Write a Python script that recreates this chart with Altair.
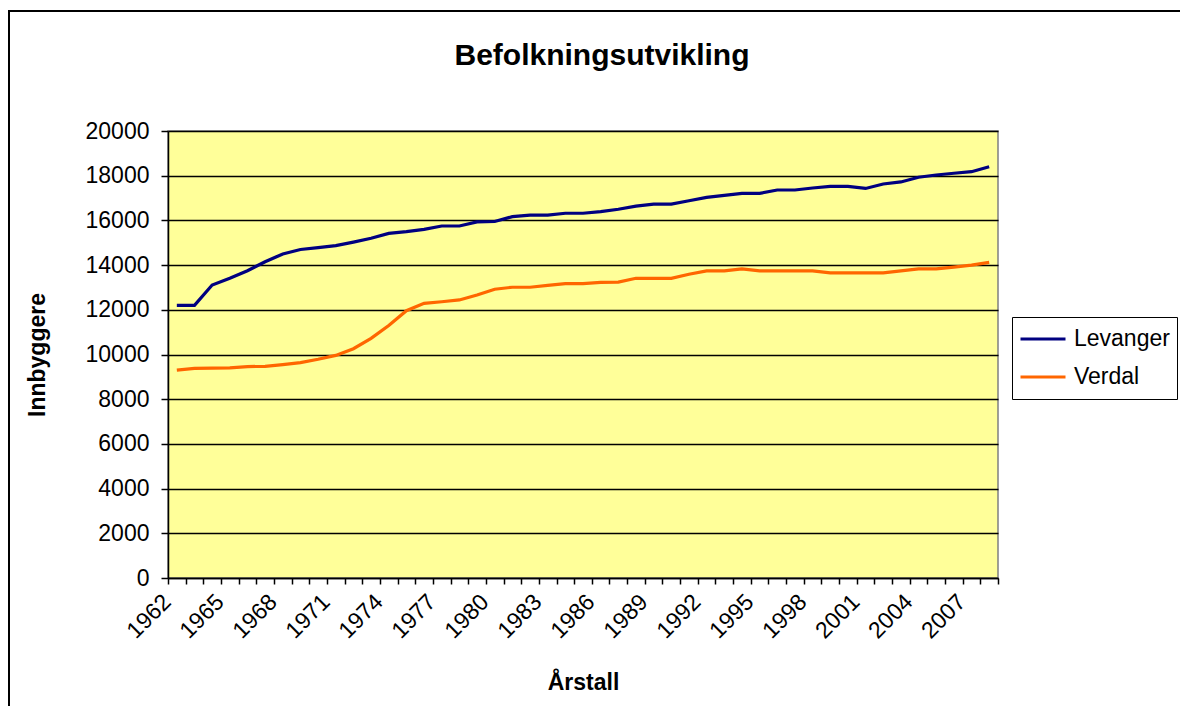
import altair as alt
import pandas as pd

years = [1962, 1963, 1964, 1965, 1966, 1967, 1968, 1969, 1970, 1971,
         1972, 1973, 1974, 1975, 1976, 1977, 1978, 1979, 1980, 1981,
         1982, 1983, 1984, 1985, 1986, 1987, 1988, 1989, 1990, 1991,
         1992, 1993, 1994, 1995, 1996, 1997, 1998, 1999, 2000, 2001,
         2002, 2003, 2004, 2005, 2006, 2007, 2008]

levanger = [12200, 12200, 13110, 13410, 13750, 14150, 14500, 14700, 14780, 14870,
            15030, 15200, 15420, 15500, 15600, 15750, 15750, 15930, 15950, 16170,
            16240, 16240, 16320, 16320, 16390, 16500, 16640, 16730, 16730, 16880,
            17030, 17120, 17210, 17210, 17360, 17360, 17450, 17520, 17520, 17430,
            17630, 17720, 17930, 18030, 18110, 18180, 18400]

verdal = [9300, 9380, 9390, 9400, 9460, 9470, 9545, 9635, 9785, 9960,
          10260, 10720, 11300, 11960, 12290, 12360, 12440, 12660, 12920, 13010,
          13010, 13090, 13170, 13170, 13230, 13240, 13410, 13410, 13410, 13590,
          13740, 13740, 13830, 13740, 13740, 13740, 13740, 13650, 13650, 13650,
          13650, 13740, 13830, 13830, 13910, 14000, 14120]

series_names = ["Levanger", "Verdal"]
series_colors = ["#000080", "#FF6600"]
y_ticks = [0, 2000, 4000, 6000, 8000, 10000, 12000, 14000, 16000, 18000, 20000]

rows = []
for name, vals in zip(series_names, [levanger, verdal]):
    for yr, v in zip(years, vals):
        rows.append({"year": yr, "series": name, "value": v})
df = pd.DataFrame(rows)

FONT = "Liberation Sans"

frame = alt.Chart(alt.Data(values=[{}])).mark_rect(
    fillOpacity=0, stroke="black", strokeWidth=2
).encode(
    x=alt.value(-159), x2=alt.value(1019), y=alt.value(-120), y2=alt.value(640)
)

lines = alt.Chart(df).mark_line(strokeWidth=3.2).encode(
    x=alt.X(
        "year:O",
        scale=alt.Scale(type="band", paddingInner=0, paddingOuter=0),
        bandPosition=0.5,
        axis=alt.Axis(
            title="Årstall",
            titleFont=FONT, titleFontSize=23, titleFontWeight="bold", titleColor="black",
            titlePadding=29,
            tickBand="extent",
            labelExpr="(datum.value - 1962) % 3 === 0 ? datum.label : ''",
            labelAngle=-45, labelAlign="right", labelBaseline="middle",
            labelOffset=-10, labelPadding=14,
            labelFont=FONT, labelFontSize=23, labelColor="black",
            labelOverlap=False, labelBound=False,
            tickSize=6, tickColor="black", tickWidth=1.5,
            domainColor="black", domainWidth=1.5,
            grid=False,
        ),
    ),
    y=alt.Y(
        "value:Q",
        scale=alt.Scale(domain=[0, 20000], nice=False),
        axis=alt.Axis(
            title="Innbyggere",
            titleFont=FONT, titleFontSize=23, titleFontWeight="bold", titleColor="black",
            titlePadding=36,
            values=y_ticks, format="d",
            labelFont=FONT, labelFontSize=23, labelColor="black", labelPadding=12,
            tickSize=7, tickColor="black", tickWidth=1.5,
            domainColor="black", domainWidth=1.5,
            grid=True, gridColor="black", gridWidth=1.5,
        ),
    ),
    color=alt.Color(
        "series:N",
        scale=alt.Scale(domain=series_names, range=series_colors),
        legend=alt.Legend(
            title=None, orient="none", legendX=844, legendY=186,
            strokeColor="black", fillColor="white", padding=7,
            labelFont=FONT, labelFontSize=23, labelColor="black", labelOffset=7,
            symbolType="stroke", symbolSize=2025, symbolStrokeWidth=3,
            clipHeight=30, rowPadding=8,
        ),
    ),
)

chart = alt.layer(frame, lines).properties(
    width=830,
    height=447,
    autosize="none",
    background="white",
    padding={"left": 160, "top": 123, "right": 182, "bottom": 128},
    title=alt.TitleParams(
        "Befolkningsutvikling", font=FONT, fontSize=30, fontWeight="bold",
        color="black", frame="group", anchor="middle", offset=-61, dx=19,
    ),
).configure_view(
    fill="#FFFF99", stroke="#808080", strokeWidth=1.5
)

chart.save("out.html", embed_options={"renderer": "svg", "actions": False})
